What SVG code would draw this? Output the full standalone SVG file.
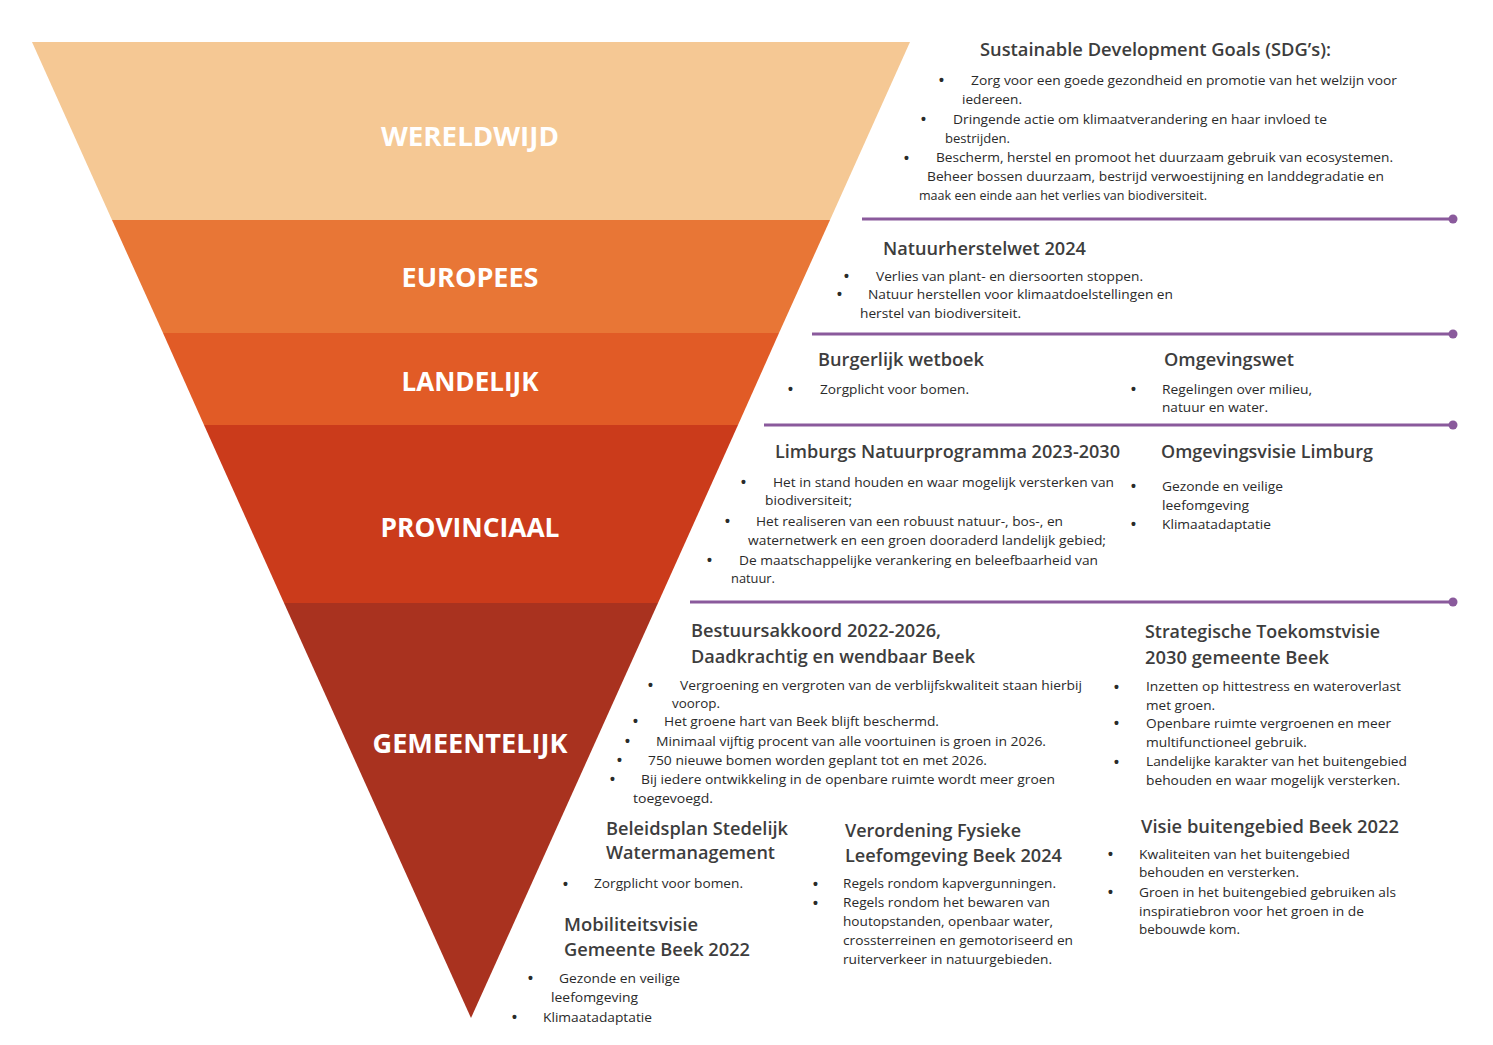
<svg xmlns="http://www.w3.org/2000/svg" width="1493" height="1045" viewBox="0 0 1493 1045">
<style>
.lvl{font-family:"Open Sans","Liberation Sans",sans-serif;font-weight:700;font-size:26px;fill:#ffffff;text-anchor:middle}
.h{font-family:"Open Sans","Liberation Sans",sans-serif;font-size:18px;fill:#3d3d3d;font-weight:600}
.t{font-family:"Open Sans","Liberation Sans",sans-serif;font-size:12.5px;fill:#2a2a2a}
.b{font-family:"Liberation Sans",sans-serif;font-size:14px;font-weight:700;fill:#2a2a2a}
.sep{stroke:#8a5a9c;stroke-width:3;fill:none}
.dot{fill:#8a5a9c}
</style>
<defs>
<marker id="end" markerWidth="10" markerHeight="10" refX="5" refY="5" markerUnits="userSpaceOnUse"><circle cx="5" cy="5" r="4.5" class="dot"/></marker>
</defs>
<rect width="1493" height="1045" fill="#ffffff"/>

<g id="funnel">
<g id="wereldwijd"><polygon points="32,42 910,42 830,220 112,220" fill="#f5c894"/><text class="lvl" x="470" y="146" textLength="178" lengthAdjust="spacingAndGlyphs">WERELDWIJD</text></g>
<g id="europees"><polygon points="112,220 830,220 779,333 163,333" fill="#e87636"/><text class="lvl" x="470" y="287" textLength="137" lengthAdjust="spacingAndGlyphs">EUROPEES</text></g>
<g id="landelijk"><polygon points="163,333 779,333 738,425 204,425" fill="#e15b26"/><text class="lvl" x="470" y="391" textLength="137" lengthAdjust="spacingAndGlyphs">LANDELIJK</text></g>
<g id="provinciaal"><polygon points="204,425 738,425 658,603 284,603" fill="#cb3b1b"/><text class="lvl" x="470" y="537" textLength="179" lengthAdjust="spacingAndGlyphs">PROVINCIAAL</text></g>
<g id="gemeentelijk"><polygon points="284,603 658,603 471,1018" fill="#a9321f"/><text class="lvl" x="470" y="753" textLength="195" lengthAdjust="spacingAndGlyphs">GEMEENTELIJK</text></g>
</g>

<g id="connectors">
<line class="sep" x1="862" y1="219" x2="1453" y2="219" marker-end="url(#end)"/>
<line class="sep" x1="812" y1="334" x2="1453" y2="334" marker-end="url(#end)"/>
<line class="sep" x1="764" y1="425" x2="1453" y2="425" marker-end="url(#end)"/>
<line class="sep" x1="690" y1="602" x2="1453" y2="602" marker-end="url(#end)"/>
</g>

<g id="sdg">
<text class="h" x="980" y="56" textLength="351" lengthAdjust="spacingAndGlyphs">Sustainable Development Goals (SDG’s):</text>
<text class="b" x="939" y="85">•</text>
<text class="t" x="971" y="85" textLength="426" lengthAdjust="spacingAndGlyphs">Zorg voor een goede gezondheid en promotie van het welzijn voor</text>
<text class="t" x="962" y="104" textLength="60" lengthAdjust="spacingAndGlyphs">iedereen.</text>
<text class="b" x="921" y="124">•</text>
<text class="t" x="953" y="124" textLength="374" lengthAdjust="spacingAndGlyphs">Dringende actie om klimaatverandering en haar invloed te</text>
<text class="t" x="945" y="143" textLength="65" lengthAdjust="spacingAndGlyphs">bestrijden.</text>
<text class="b" x="904" y="163">•</text>
<text class="t" x="936" y="162" textLength="457" lengthAdjust="spacingAndGlyphs">Bescherm, herstel en promoot het duurzaam gebruik van ecosystemen.</text>
<text class="t" x="927" y="181" textLength="457" lengthAdjust="spacingAndGlyphs">Beheer bossen duurzaam, bestrijd verwoestijning en landdegradatie en</text>
<text class="t" x="919" y="200" textLength="288" lengthAdjust="spacingAndGlyphs">maak een einde aan het verlies van biodiversiteit.</text>
</g>

<g id="natuurherstelwet">
<text class="h" x="883" y="255" textLength="203" lengthAdjust="spacingAndGlyphs">Natuurherstelwet 2024</text>
<text class="b" x="844" y="281">•</text>
<text class="t" x="876" y="281" textLength="267" lengthAdjust="spacingAndGlyphs">Verlies van plant- en diersoorten stoppen.</text>
<text class="b" x="837" y="299">•</text>
<text class="t" x="868" y="299" textLength="305" lengthAdjust="spacingAndGlyphs">Natuur herstellen voor klimaatdoelstellingen en</text>
<text class="t" x="860" y="318" textLength="161" lengthAdjust="spacingAndGlyphs">herstel van biodiversiteit.</text>
</g>

<g id="burgerlijk-wetboek">
<text class="h" x="818" y="366" textLength="166" lengthAdjust="spacingAndGlyphs">Burgerlijk wetboek</text>
<text class="b" x="788" y="394">•</text>
<text class="t" x="820" y="394" textLength="149" lengthAdjust="spacingAndGlyphs">Zorgplicht voor bomen.</text>
</g>

<g id="omgevingswet">
<text class="h" x="1164" y="366" textLength="130" lengthAdjust="spacingAndGlyphs">Omgevingswet</text>
<text class="b" x="1131" y="394">•</text>
<text class="t" x="1162" y="394" textLength="150" lengthAdjust="spacingAndGlyphs">Regelingen over milieu,</text>
<text class="t" x="1162" y="412" textLength="106" lengthAdjust="spacingAndGlyphs">natuur en water.</text>
</g>

<g id="limburgs-natuurprogramma">
<text class="h" x="775" y="458" textLength="345" lengthAdjust="spacingAndGlyphs">Limburgs Natuurprogramma 2023-2030</text>
<text class="b" x="741" y="487">•</text>
<text class="t" x="773" y="487" textLength="341" lengthAdjust="spacingAndGlyphs">Het in stand houden en waar mogelijk versterken van</text>
<text class="t" x="765" y="505" textLength="87" lengthAdjust="spacingAndGlyphs">biodiversiteit;</text>
<text class="b" x="725" y="526">•</text>
<text class="t" x="756" y="526" textLength="307" lengthAdjust="spacingAndGlyphs">Het realiseren van een robuust natuur-, bos-, en</text>
<text class="t" x="748" y="545" textLength="358" lengthAdjust="spacingAndGlyphs">waternetwerk en een groen dooraderd landelijk gebied;</text>
<text class="b" x="707" y="565">•</text>
<text class="t" x="739" y="565" textLength="359" lengthAdjust="spacingAndGlyphs">De maatschappelijke verankering en beleefbaarheid van</text>
<text class="t" x="731" y="583" textLength="44" lengthAdjust="spacingAndGlyphs">natuur.</text>
</g>

<g id="omgevingsvisie-limburg">
<text class="h" x="1161" y="458" textLength="212" lengthAdjust="spacingAndGlyphs">Omgevingsvisie Limburg</text>
<text class="b" x="1131" y="491">•</text>
<text class="t" x="1162" y="491" textLength="121" lengthAdjust="spacingAndGlyphs">Gezonde en veilige</text>
<text class="t" x="1162" y="510" textLength="87" lengthAdjust="spacingAndGlyphs">leefomgeving</text>
<text class="b" x="1131" y="529">•</text>
<text class="t" x="1162" y="529" textLength="109" lengthAdjust="spacingAndGlyphs">Klimaatadaptatie</text>
</g>

<g id="bestuursakkoord">
<text class="h" x="691" y="637" textLength="250" lengthAdjust="spacingAndGlyphs">Bestuursakkoord 2022-2026,</text>
<text class="h" x="691" y="663" textLength="284" lengthAdjust="spacingAndGlyphs">Daadkrachtig en wendbaar Beek</text>
<text class="b" x="648" y="690">•</text>
<text class="t" x="680" y="690" textLength="402" lengthAdjust="spacingAndGlyphs">Vergroening en vergroten van de verblijfskwaliteit staan hierbij</text>
<text class="t" x="672" y="708" textLength="48" lengthAdjust="spacingAndGlyphs">voorop.</text>
<text class="b" x="633" y="726">•</text>
<text class="t" x="664" y="726" textLength="275" lengthAdjust="spacingAndGlyphs">Het groene hart van Beek blijft beschermd.</text>
<text class="b" x="625" y="746">•</text>
<text class="t" x="656" y="746" textLength="390" lengthAdjust="spacingAndGlyphs">Minimaal vijftig procent van alle voortuinen is groen in 2026.</text>
<text class="b" x="617" y="765">•</text>
<text class="t" x="648" y="765" textLength="339" lengthAdjust="spacingAndGlyphs">750 nieuwe bomen worden geplant tot en met 2026.</text>
<text class="b" x="610" y="784">•</text>
<text class="t" x="641" y="784" textLength="414" lengthAdjust="spacingAndGlyphs">Bij iedere ontwikkeling in de openbare ruimte wordt meer groen</text>
<text class="t" x="633" y="803" textLength="80" lengthAdjust="spacingAndGlyphs">toegevoegd.</text>
</g>

<g id="strategische-toekomstvisie">
<text class="h" x="1145" y="638" textLength="235" lengthAdjust="spacingAndGlyphs">Strategische Toekomstvisie</text>
<text class="h" x="1145" y="664" textLength="184" lengthAdjust="spacingAndGlyphs">2030 gemeente Beek</text>
<text class="b" x="1114" y="692">•</text>
<text class="t" x="1146" y="691" textLength="255" lengthAdjust="spacingAndGlyphs">Inzetten op hittestress en wateroverlast</text>
<text class="t" x="1146" y="710" textLength="69" lengthAdjust="spacingAndGlyphs">met groen.</text>
<text class="b" x="1114" y="728">•</text>
<text class="t" x="1146" y="728" textLength="245" lengthAdjust="spacingAndGlyphs">Openbare ruimte vergroenen en meer</text>
<text class="t" x="1146" y="747" textLength="161" lengthAdjust="spacingAndGlyphs">multifunctioneel gebruik.</text>
<text class="b" x="1114" y="767">•</text>
<text class="t" x="1146" y="766" textLength="261" lengthAdjust="spacingAndGlyphs">Landelijke karakter van het buitengebied</text>
<text class="t" x="1146" y="785" textLength="254" lengthAdjust="spacingAndGlyphs">behouden en waar mogelijk versterken.</text>
</g>

<g id="beleidsplan">
<text class="h" x="606" y="835" textLength="182" lengthAdjust="spacingAndGlyphs">Beleidsplan Stedelijk</text>
<text class="h" x="606" y="859" textLength="169" lengthAdjust="spacingAndGlyphs">Watermanagement</text>
<text class="b" x="563" y="889">•</text>
<text class="t" x="594" y="888" textLength="149" lengthAdjust="spacingAndGlyphs">Zorgplicht voor bomen.</text>
</g>

<g id="verordening">
<text class="h" x="845" y="837" textLength="176" lengthAdjust="spacingAndGlyphs">Verordening Fysieke</text>
<text class="h" x="845" y="862" textLength="217" lengthAdjust="spacingAndGlyphs">Leefomgeving Beek 2024</text>
<text class="b" x="813" y="889">•</text>
<text class="t" x="843" y="888" textLength="213" lengthAdjust="spacingAndGlyphs">Regels rondom kapvergunningen.</text>
<text class="b" x="813" y="908">•</text>
<text class="t" x="843" y="907" textLength="207" lengthAdjust="spacingAndGlyphs">Regels rondom het bewaren van</text>
<text class="t" x="843" y="926" textLength="210" lengthAdjust="spacingAndGlyphs">houtopstanden, openbaar water,</text>
<text class="t" x="843" y="945" textLength="230" lengthAdjust="spacingAndGlyphs">crossterreinen en gemotoriseerd en</text>
<text class="t" x="843" y="964" textLength="209" lengthAdjust="spacingAndGlyphs">ruiterverkeer in natuurgebieden.</text>
</g>

<g id="visie-buitengebied">
<text class="h" x="1141" y="833" textLength="258" lengthAdjust="spacingAndGlyphs">Visie buitengebied Beek 2022</text>
<text class="b" x="1108" y="859">•</text>
<text class="t" x="1139" y="859" textLength="211" lengthAdjust="spacingAndGlyphs">Kwaliteiten van het buitengebied</text>
<text class="t" x="1139" y="877" textLength="160" lengthAdjust="spacingAndGlyphs">behouden en versterken.</text>
<text class="b" x="1108" y="897">•</text>
<text class="t" x="1139" y="897" textLength="257" lengthAdjust="spacingAndGlyphs">Groen in het buitengebied gebruiken als</text>
<text class="t" x="1139" y="916" textLength="225" lengthAdjust="spacingAndGlyphs">inspiratiebron voor het groen in de</text>
<text class="t" x="1139" y="934" textLength="101" lengthAdjust="spacingAndGlyphs">bebouwde kom.</text>
</g>

<g id="mobiliteitsvisie">
<text class="h" x="564" y="931" textLength="134" lengthAdjust="spacingAndGlyphs">Mobiliteitsvisie</text>
<text class="h" x="564" y="956" textLength="186" lengthAdjust="spacingAndGlyphs">Gemeente Beek 2022</text>
<text class="b" x="528" y="983">•</text>
<text class="t" x="559" y="983" textLength="121" lengthAdjust="spacingAndGlyphs">Gezonde en veilige</text>
<text class="t" x="551" y="1002" textLength="87" lengthAdjust="spacingAndGlyphs">leefomgeving</text>
<text class="b" x="512" y="1022">•</text>
<text class="t" x="543" y="1022" textLength="109" lengthAdjust="spacingAndGlyphs">Klimaatadaptatie</text>
</g>
</svg>
